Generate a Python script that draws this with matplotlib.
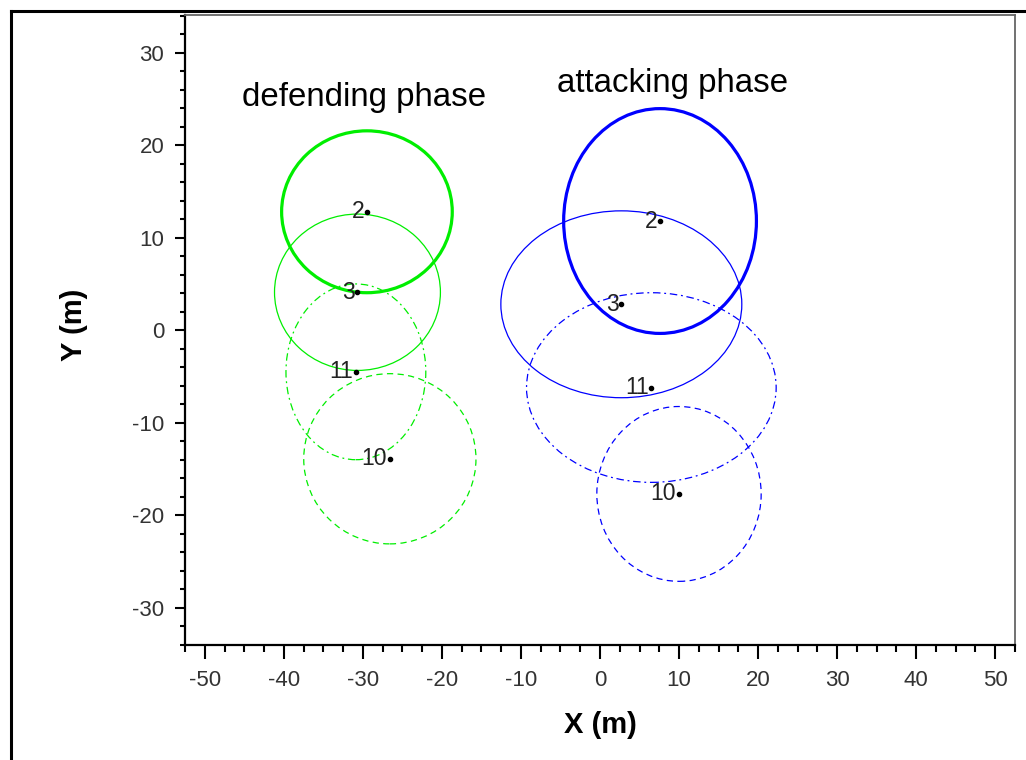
# Player positional ellipses, defending vs attacking phase
import matplotlib
matplotlib.use('Agg')
import matplotlib.pyplot as plt
from matplotlib.patches import Ellipse
from matplotlib.lines import Line2D
from matplotlib.ticker import MultipleLocator

plt.rcParams['font.family'] = ['Liberation Sans', 'DejaVu Sans']
plt.rcParams['axes.unicode_minus'] = False

# Players (shirt numbers) - same order in both phases
players = ['2', '3', '11', '10']

# Defending phase: centre x, centre y, ellipse width, ellipse height (m)
def_x = [-29.5, -30.7, -30.9, -26.6]
def_y = [12.8, 4.1, -4.5, -13.9]
def_w = [21.6, 21.0, 17.7, 21.8]
def_h = [17.5, 16.9, 19.0, 18.4]

# Attacking phase
att_x = [7.6, 2.7, 6.5, 10.0]
att_y = [11.8, 2.8, -6.2, -17.7]
att_w = [24.4, 30.5, 31.6, 20.8]
att_h = [24.3, 20.2, 20.5, 18.9]

# line style per player
styles = ['-', '-', (0, (6, 3, 1.5, 3)), (0, (5, 3.5))]
widths = [2.3, 0.9, 0.9, 0.9]

fig = plt.figure(figsize=(10.26, 7.6), dpi=100)
ax = fig.add_axes([185/1026, 115/760, 830/1026, 630/760])

def draw_phase(xs, ys, ws, hs, colour):
    for i in range(len(players)):
        e = Ellipse((xs[i], ys[i]), ws[i], hs[i], fill=False,
                    edgecolor=colour, linestyle=styles[i], linewidth=widths[i])
        ax.add_patch(e)
        ax.plot(xs[i], ys[i], 'o', color='black', markersize=3)
        ax.annotate(players[i], (xs[i], ys[i]), xytext=(-2, 0),
                    textcoords='offset points', ha='right', va='center',
                    fontsize=16.5, color='#222222')

draw_phase(def_x, def_y, def_w, def_h, '#00ee00')
draw_phase(att_x, att_y, att_w, att_h, '#0000ff')

ax.text(-45.3, 24.2, 'defending phase', fontsize=23.8, ha='left', va='baseline')
ax.text(-5.4, 25.8, 'attacking phase', fontsize=23.8, ha='left', va='baseline')

ax.set_xlim(-52.53, 52.53)
ax.set_ylim(-34.03, 34.07)
ax.xaxis.set_major_locator(MultipleLocator(10))
ax.xaxis.set_minor_locator(MultipleLocator(2.5))
ax.yaxis.set_major_locator(MultipleLocator(10))
ax.yaxis.set_minor_locator(MultipleLocator(2))

ax.tick_params(axis='x', which='major', direction='out', length=10, width=1.5,
               pad=8, labelsize=16, labelcolor='#333333')
ax.tick_params(axis='x', which='minor', direction='out', length=5, width=1.5)
ax.tick_params(axis='y', which='major', direction='out', length=7, width=1.5,
               pad=8, labelsize=16, labelcolor='#333333')
ax.tick_params(axis='y', which='minor', direction='out', length=3.6, width=1.5)

for side in ['left', 'bottom']:
    ax.spines[side].set_linewidth(1.6)
for side in ['top', 'right']:
    ax.spines[side].set_linewidth(1.3)
    ax.spines[side].set_color('#666666')

ax.set_xlabel('X (m)', fontsize=21, fontweight='bold')
ax.set_ylabel('Y (m)', fontsize=21, fontweight='bold')
ax.xaxis.set_label_coords(0.501, -0.105)
ax.yaxis.set_label_coords(-0.117, 0.508)

# outer frame (partly cut off in the original)
fig.add_artist(Line2D([11/1026, 1], [1 - 11/760, 1 - 11/760], color='black', linewidth=2.2))
fig.add_artist(Line2D([11/1026, 11/1026], [0, 1 - 11/760], color='black', linewidth=2.2))

fig.savefig('out.png', dpi=100)
